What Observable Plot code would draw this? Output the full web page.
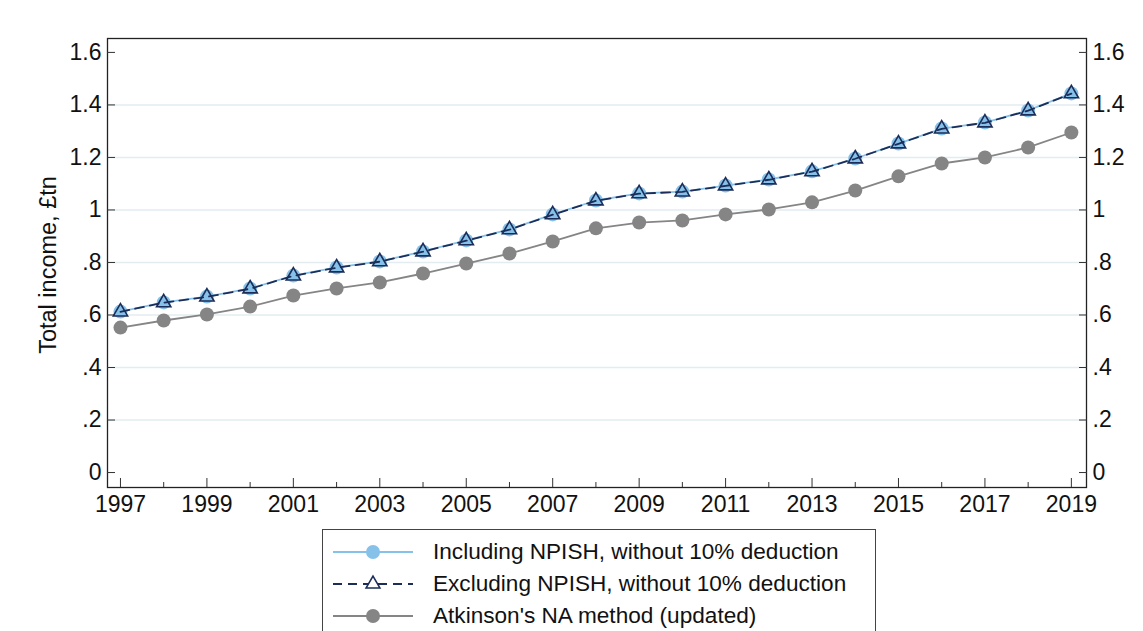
<!DOCTYPE html>
<html>
<head>
<meta charset="utf-8">
<script src="https://cdn.jsdelivr.net/npm/d3@7"></script>
<script src="https://cdn.jsdelivr.net/npm/@observablehq/plot@0.6"></script>
<style>
  body { margin: 0; background: #fff; font-family: "Liberation Sans", Arial, sans-serif; }
  #legend { margin: 4px 0 0 322px; width: 552px; border: 1px solid #444; padding: 6px 0 0 0; }
  .row { display: flex; align-items: center; height: 32px; font-size: 22.6px; color: #111; }
  .row svg { margin: 0 20px 0 10px; }
</style>
</head>
<body>
<div id="chart"></div>
<div id="legend"></div>
<script>
const years = d3.range(1997, 2020);
const including = [0.613, 0.648, 0.670, 0.701, 0.750, 0.781, 0.804, 0.842, 0.884, 0.926, 0.983, 1.036,
  1.063, 1.070, 1.093, 1.116, 1.147, 1.196, 1.253, 1.310, 1.333, 1.379, 1.444];
const excluding = [0.612, 0.647, 0.669, 0.700, 0.749, 0.780, 0.803, 0.841, 0.883, 0.925, 0.982, 1.035,
  1.062, 1.069, 1.092, 1.115, 1.146, 1.195, 1.252, 1.309, 1.332, 1.378, 1.443];
const atkinson = [0.552, 0.579, 0.602, 0.632, 0.674, 0.701, 0.724, 0.758, 0.796, 0.834, 0.880, 0.930,
  0.952, 0.960, 0.983, 1.002, 1.029, 1.074, 1.128, 1.177, 1.200, 1.238, 1.295];
const yTicks = [0, 0.2, 0.4, 0.6, 0.8, 1, 1.2, 1.4, 1.6];
const xLabels = d3.range(1997, 2020, 2);

const series = ["Including NPISH, without 10% deduction", "Excluding NPISH, without 10% deduction", "Atkinson's NA method (updated)"];
const inc = years.map((year, i) => ({year, value: including[i]}));
const exc = years.map((year, i) => ({year, value: excluding[i]}));
const atk = years.map((year, i) => ({year, value: atkinson[i]}));

const fmt = d => d === 0 ? "0" : d < 1 ? d3.format(".1f")(d).replace(/^0/, "") : (d === 1 ? "1" : d3.format(".1f")(d));

const lightBlue = "#86c1e9", navy = "#1b2d58", grey = "#858585";

const chart = Plot.plot({
  width: 1143,
  height: 525,
  marginLeft: 107,
  marginRight: 57,
  marginTop: 38,
  marginBottom: 38,
  style: {fontFamily: "Liberation Sans, Arial, sans-serif", fontSize: "23px", color: "#111"},
  x: {domain: [1996.7, 2019.35]},
  y: {domain: [-0.057, 1.653]},
  marks: [
    Plot.gridY(yTicks.filter(d => d > 0 && d < 1.6), {stroke: "#e3edf0", strokeOpacity: 1, strokeWidth: 1.5}),
    Plot.frame({stroke: "#222", strokeWidth: 1.3}),
    Plot.axisY(yTicks, {anchor: "left", tickSize: -8, tickPadding: 14, tickFormat: fmt, label: null, stroke: "#333", fontSize: 23}),
    Plot.axisY(yTicks, {anchor: "right", tickSize: -8, tickPadding: 14, tickFormat: fmt, label: null, stroke: "#333", fontSize: 23}),
    Plot.axisX(xLabels, {tickSize: -9, tickPadding: 17, tickFormat: d => String(d), label: null, stroke: "#333", fontSize: 23}),
    Plot.axisX(years.filter(y => !xLabels.includes(y)), {tickSize: -5, text: null, label: null, stroke: "#333"}),
    Plot.text(["Total income, £tn"], {frameAnchor: "left", textAnchor: "middle", dx: -59, dy: 2, rotate: -90, fontSize: 23.5}),
    Plot.line(inc, {x: "year", y: "value", stroke: lightBlue, strokeWidth: 1.8}),
    Plot.dot(inc, {x: "year", y: "value", r: 7, fill: lightBlue}),
    Plot.line(exc, {x: "year", y: "value", stroke: navy, strokeWidth: 1.8, strokeDasharray: "9,6"}),
    Plot.dot(exc, {x: "year", y: "value", symbol: "triangle", r: 5.3, stroke: navy, strokeWidth: 1.6, fill: "none"}),
    Plot.line(atk, {x: "year", y: "value", stroke: grey, strokeWidth: 1.8}),
    Plot.dot(atk, {x: "year", y: "value", r: 7, fill: grey})
  ]
});
d3.select("#chart").append(() => chart);

// legend
const legend = d3.select("#legend");
const sample = [
  {line: lightBlue, dash: null, marker: "circle", color: lightBlue},
  {line: navy, dash: "9,6", marker: "triangle", color: navy},
  {line: grey, dash: null, marker: "circle", color: grey}
];
series.forEach((name, i) => {
  const s = sample[i];
  const row = legend.append("div").attr("class", "row");
  const svg = row.append("svg").attr("width", 80).attr("height", 20);
  svg.append("line").attr("x1", 0).attr("x2", 80).attr("y1", 10).attr("y2", 10)
    .attr("stroke", s.line).attr("stroke-width", 1.8).attr("stroke-dasharray", s.dash);
  if (s.marker === "circle") {
    svg.append("circle").attr("cx", 40).attr("cy", 10).attr("r", 7).attr("fill", s.color);
  } else {
    svg.append("path").attr("transform", "translate(40,10)")
      .attr("d", d3.symbol(d3.symbolTriangle, 82)()).attr("fill", "white").attr("stroke", s.color).attr("stroke-width", 1.6);
  }
  row.append("span").text(name);
});
</script>
</body>
</html>
